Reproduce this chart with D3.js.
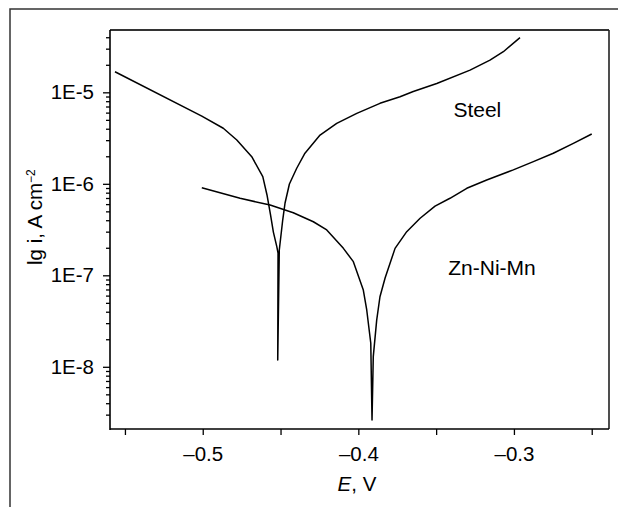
<!DOCTYPE html>
<html>
<head>
<meta charset="utf-8">
<script src="https://cdn.jsdelivr.net/npm/d3@7"></script>
<style>
    html, body { margin: 0; padding: 0; background: #fff; }
    #chart { width: 618px; height: 507px; }
    text { font-family: "Liberation Sans", Arial, sans-serif; fill: #000; }
</style>
</head>
<body>
<div id="chart"></div>
<script>
// Polarization curves: Steel and Zn-Ni-Mn coating

// Steel curve (E in V, i in A cm-2)
const steelE = [-0.5564, -0.5006, -0.4868, -0.4781, -0.4685, -0.4614, -0.4587, -0.4564, -0.4546, -0.4524,
    -0.4516, -0.4518, -0.4508, -0.4486, -0.4471, -0.4443, -0.4396, -0.4343, -0.4246, -0.4139,
    -0.4010, -0.3861, -0.3732, -0.3647, -0.3496, -0.3282, -0.3154, -0.3068, -0.2961];
const steelI = [1.68e-5, 5.5e-6, 4.05e-6, 3.01e-6, 1.98e-6, 1.20e-6, 7.55e-7, 4.56e-7, 2.97e-7, 2.06e-7,
    1.75e-7, 1.19e-8, 1.89e-7, 4.02e-7, 6.17e-7, 9.96e-7, 1.48e-6, 2.16e-6, 3.41e-6, 4.58e-6,
    5.89e-6, 7.58e-6, 8.95e-6, 1.02e-5, 1.25e-5, 1.75e-5, 2.25e-5, 2.78e-5, 3.96e-5];

// Zn-Ni-Mn curve
const znE = [-0.5006, -0.4760, -0.4567, -0.4418, -0.4289, -0.4203, -0.4096, -0.4032, -0.3968, -0.3946,
    -0.3920, -0.3912, -0.3904, -0.3882, -0.3861, -0.3828, -0.3764, -0.3689, -0.3603, -0.3507,
    -0.3411, -0.3303, -0.3175, -0.3004, -0.2875, -0.2747, -0.2618, -0.2500];
const znI = [9.06e-7, 6.95e-7, 5.86e-7, 4.83e-7, 3.85e-7, 3.13e-7, 1.97e-7, 1.41e-7, 6.90e-8, 4.18e-8,
    1.81e-8, 2.62e-9, 1.29e-8, 3.24e-8, 5.83e-8, 9.33e-8, 1.97e-7, 3.00e-7, 4.20e-7, 5.71e-7,
    6.95e-7, 8.93e-7, 1.10e-6, 1.42e-6, 1.75e-6, 2.16e-6, 2.77e-6, 3.50e-6];

// axis ticks
const xMajorTicks = [-0.5, -0.4, -0.3];
const xMinorTicks = [-0.55, -0.45, -0.35, -0.25];
const yMajorTicks = [1e-8, 1e-7, 1e-6, 1e-5];
const yTickLabels = ["1E-8", "1E-7", "1E-6", "1E-5"];

const curveLabels = [
    { name: "Steel", e: -0.3389, i: 5.41e-6 },
    { name: "Zn-Ni-Mn", e: -0.3422, i: 1.0e-7 }
];

function drawChart() {
    if (typeof d3 === 'undefined') {
        console.error('D3.js not loaded.');
        return;
    }

    const width = 618, height = 507;
    const plot = { left: 110, right: 609, top: 30, bottom: 429 };

    const svg = d3.select("#chart")
        .append("svg")
        .attr("width", width)
        .attr("height", height);

    // outer frame (only top and left edges visible)
    svg.append("path")
        .attr("d", `M10,${height} L10,9 L${width},9`)
        .attr("fill", "none")
        .attr("stroke", "#333")
        .attr("stroke-width", 1.5);

    const x = d3.scaleLinear()
        .domain([-0.5596, -0.2389])
        .range([plot.left, plot.right]);

    const y = d3.scaleLog()
        .domain([2.09e-9, 4.8e-5])
        .range([plot.bottom, plot.top]);

    // y minor ticks: 2..9 in every decade inside the domain
    const yMinorTicks = [];
    for (let p = -9; p <= -5; p++) {
        for (let m = 2; m <= 9; m++) {
            const v = m * Math.pow(10, p);
            if (v >= y.domain()[0] && v <= y.domain()[1]) yMinorTicks.push(v);
        }
    }

    // x axis
    const xAxis = d3.axisBottom(x)
        .tickValues(xMajorTicks)
        .tickSize(6)
        .tickFormat(d => d3.format(".1f")(d).replace("−", "–").replace("-", "–"));
    const gx = svg.append("g")
        .attr("transform", `translate(0,${plot.bottom})`)
        .call(xAxis);
    gx.select(".domain").remove();
    gx.selectAll(".tick line").attr("stroke", "#000").attr("stroke-width", 1.3);
    gx.selectAll(".tick text")
        .attr("y", 17)
        .attr("dy", "0.71em")
        .style("font-size", "20.5px")
        .style("font-family", '"Liberation Sans", Arial, sans-serif');

    const gxMinor = svg.append("g")
        .attr("transform", `translate(0,${plot.bottom})`)
        .call(d3.axisBottom(x).tickValues(xMinorTicks).tickSize(6).tickFormat(""));
    gxMinor.select(".domain").remove();
    gxMinor.selectAll(".tick line").attr("stroke", "#000").attr("stroke-width", 1.3);

    // y axis
    const yAxis = d3.axisLeft(y)
        .tickValues(yMajorTicks)
        .tickSize(7)
        .tickPadding(9)
        .tickFormat((d, idx) => yTickLabels[idx]);
    const gy = svg.append("g")
        .attr("transform", `translate(${plot.left},0)`)
        .call(yAxis);
    gy.select(".domain").remove();
    gy.selectAll(".tick line").attr("stroke", "#000").attr("stroke-width", 1.3);
    gy.selectAll(".tick text")
        .style("font-size", "20.5px")
        .style("font-family", '"Liberation Sans", Arial, sans-serif');

    const gyMinor = svg.append("g")
        .attr("transform", `translate(${plot.left},0)`)
        .call(d3.axisLeft(y).tickValues(yMinorTicks).tickSize(4).tickFormat(""));
    gyMinor.select(".domain").remove();
    gyMinor.selectAll(".tick line").attr("stroke", "#000").attr("stroke-width", 1.3);

    // plot box
    svg.append("line")
        .attr("x1", plot.left).attr("x2", plot.right)
        .attr("y1", plot.top).attr("y2", plot.top)
        .attr("stroke", "#333").attr("stroke-width", 2);
    svg.append("line")
        .attr("x1", plot.right).attr("x2", plot.right)
        .attr("y1", plot.top).attr("y2", plot.bottom)
        .attr("stroke", "#222").attr("stroke-width", 1.6);
    svg.append("line")
        .attr("x1", plot.left).attr("x2", plot.left)
        .attr("y1", plot.top).attr("y2", plot.bottom + 1)
        .attr("stroke", "#000").attr("stroke-width", 1.6);
    svg.append("line")
        .attr("x1", plot.left).attr("x2", plot.right)
        .attr("y1", plot.bottom).attr("y2", plot.bottom)
        .attr("stroke", "#000").attr("stroke-width", 1.6);

    // curves
    const line = d3.line()
        .x(d => x(d[0]))
        .y(d => y(d[1]));

    const steelData = steelE.map((e, idx) => [e, steelI[idx]]);
    const znData = znE.map((e, idx) => [e, znI[idx]]);

    [steelData, znData].forEach(data => {
        svg.append("path")
            .datum(data)
            .attr("d", line)
            .attr("fill", "none")
            .attr("stroke", "#000")
            .attr("stroke-width", 1.5)
            .attr("stroke-linejoin", "round");
    });

    // curve labels
    curveLabels.forEach(lbl => {
        svg.append("text")
            .attr("x", x(lbl.e))
            .attr("y", y(lbl.i))
            .style("font-size", "21px")
            .text(lbl.name);
    });

    // axis titles
    const xTitle = svg.append("text")
        .attr("x", 357)
        .attr("y", 491)
        .attr("text-anchor", "middle")
        .style("font-size", "20.5px");
    xTitle.append("tspan").style("font-style", "italic").text("E");
    xTitle.append("tspan").text(", V");

    const yTitle = svg.append("text")
        .attr("transform", "translate(42,265) rotate(-90)")
        .attr("text-anchor", "start")
        .style("font-size", "20.5px");
    yTitle.append("tspan").text("lg i, A cm");
    yTitle.append("tspan")
        .attr("dy", "-0.55em")
        .style("font-size", "12px")
        .text("−2");
}

document.addEventListener('DOMContentLoaded', drawChart);
</script>
</body>
</html>
